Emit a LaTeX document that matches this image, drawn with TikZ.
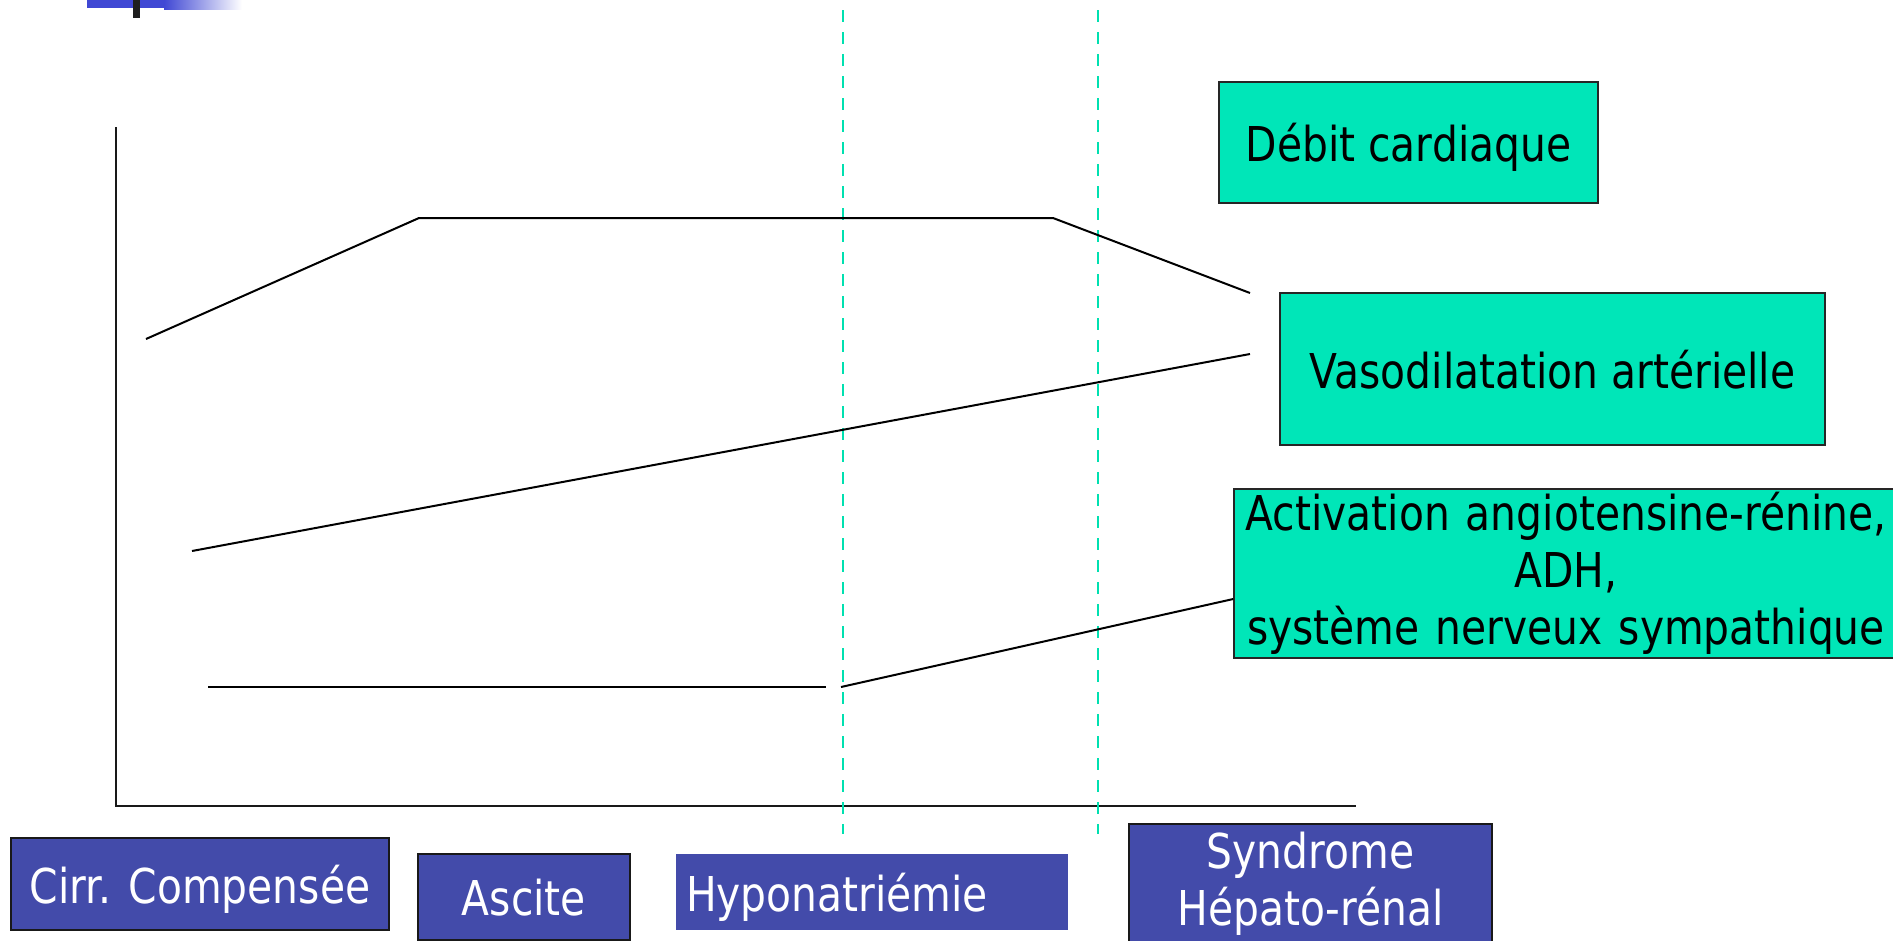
\documentclass[tikz,border=0pt]{standalone}
\usepackage{fontspec}
\newfontfamily\labfont[FakeStretch=0.85]{DejaVu Sans}
\definecolor{tealbox}{RGB}{0,230,184}
\definecolor{tealdash}{RGB}{0,224,176}
\definecolor{bluebox}{RGB}{67,75,170}
\definecolor{titleblue}{RGB}{64,72,212}
\tikzset{
  greenbox/.style={draw=black!85, line width=1.5pt, fill=tealbox, inner sep=0pt, align=center, text=black,
    font=\labfont\fontsize{48}{57}\selectfont},
  stagebox/.style={draw=black!90, line width=2pt, fill=bluebox, inner sep=0pt, align=center, text=white,
    font=\labfont\fontsize{48}{57}\selectfont},
  oneline/.style={text depth=0pt},
  curve/.style={line width=2pt, black},
  axis/.style={line width=2pt, black!90},
  sep/.style={tealdash, line width=2pt, dash pattern=on 11.5pt off 10.5pt}
}
\begin{document}
\begin{tikzpicture}[x=1pt,y=-1pt]
\useasboundingbox (0,0) rectangle (1893,940);
% title decoration
\fill[titleblue] (87,0) rectangle (164,8);
\shade[left color=titleblue, right color=white] (164,0) rectangle (242,9);
\fill[black!88] (133,0) rectangle (140,18);
% axes
\coordinate (o) at (116,806);
\coordinate (ytop) at (116,127);
\coordinate (xend) at (1356,806);
\draw[axis] (ytop) -- (o) -- (xend);
% separators
\coordinate (s1t) at (843,10); \coordinate (s1b) at (843,834);
\coordinate (s2t) at (1098,10); \coordinate (s2b) at (1098,834);
\draw[sep] (s1t) -- (s1b);
\draw[sep] (s2t) -- (s2b);
% boxes
\node[greenbox, oneline, minimum width=379pt, minimum height=121pt] (debit) at (1408.5,142.5) {D\'ebit cardiaque};
\node[greenbox, oneline, minimum width=545pt, minimum height=152pt] (vaso) at (1552.5,369) {Vasodilatation art\'erielle};
\node[greenbox, minimum width=664pt, minimum height=169pt, text width=664pt] (activ) at (1566,573.5) {Activation angiotensine-r\'enine,\\ADH,\\syst\`eme nerveux sympathique};
\node[stagebox, oneline, minimum width=378pt, minimum height=92pt] (cirr) at (200,884) {Cirr. Compens\'ee};
\node[stagebox, oneline, minimum width=212pt, minimum height=86pt] (asc) at (524,897) {Ascite};
\node[stagebox, oneline, draw=none, minimum width=392pt, minimum height=76pt, text width=372pt, align=left] (hypo) at (872,892) {Hyponatri\'emie};
\node[stagebox, minimum width=363pt, minimum height=120pt] (shr) at (1310.5,884) {Syndrome\\H\'epato-r\'enal};
% curves
\coordinate (d1) at (146,339); \coordinate (d2) at (419,218); \coordinate (d3) at (1053,218); \coordinate (d4) at (1250,293);
\draw[curve] (d1) -- (d2) -- (d3) -- (d4);
\coordinate (v1) at (192,551); \coordinate (v2) at (1250,354);
\draw[curve] (v1) -- (v2);
\coordinate (a1) at (208,687); \coordinate (a2) at (826,687);
\draw[curve] (a1) -- (a2);
\coordinate (a3) at (841,687);
\draw[curve] (a3) -- (activ.west |- 0,599);
\end{tikzpicture}
\end{document}
